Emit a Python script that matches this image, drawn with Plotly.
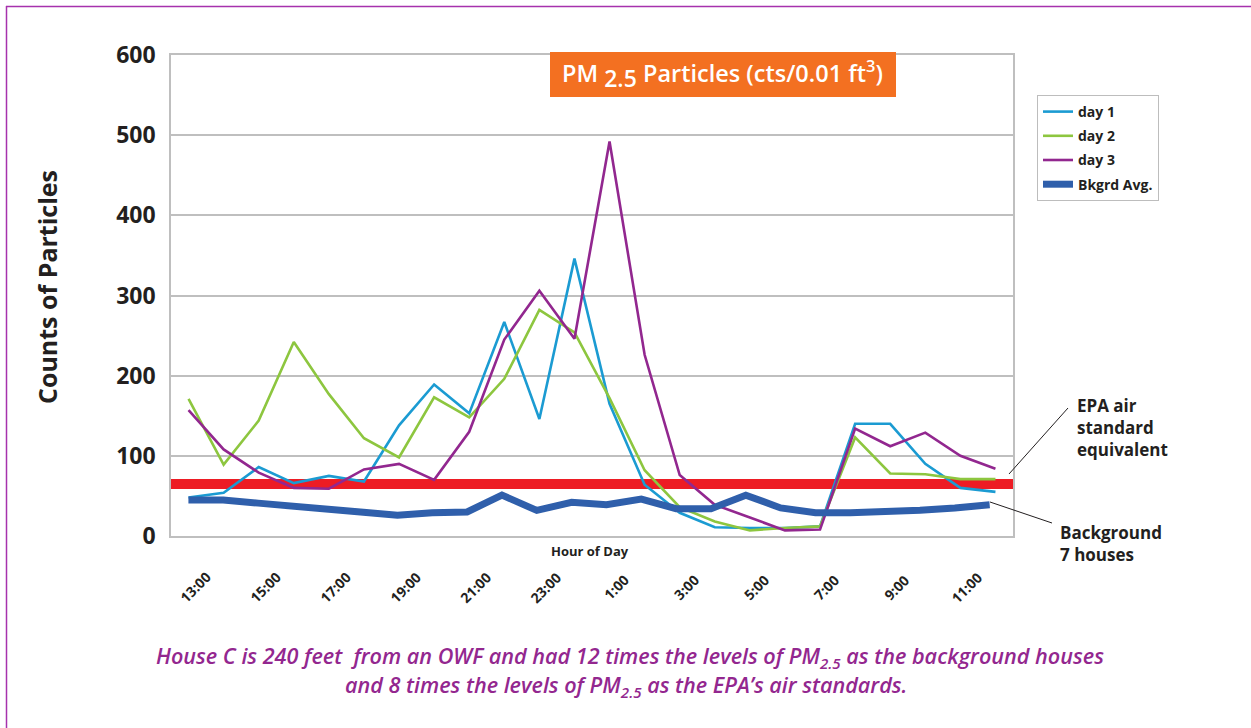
import plotly.graph_objects as go

# ---------------- data ----------------
hours = ["13:00", "14:00", "15:00", "16:00", "17:00", "18:00", "19:00", "20:00",
         "21:00", "22:00", "23:00", "0:00", "1:00", "2:00", "3:00", "4:00",
         "5:00", "6:00", "7:00", "8:00", "9:00", "10:00", "11:00", "12:00"]
tick_labels = ["13:00", "15:00", "17:00", "19:00", "21:00", "23:00",
               "1:00", "3:00", "5:00", "7:00", "9:00", "11:00"]
day1 = [48, 54, 86, 66, 75, 68, 138, 189, 153, 267, 146, 346,
        165, 64, 29, 11, 10, 10, 12, 140, 140, 90, 60, 55]
day2 = [171, 89, 144, 242, 177, 122, 98, 173, 148, 196, 282, 254,
        172, 82, 36, 18, 7, 10, 12, 123, 78, 77, 71, 71]
day3 = [157, 108, 79, 60, 59, 83, 90, 70, 130, 245, 306, 246,
        492, 226, 76, 39, 23, 7, 8, 134, 112, 129, 100, 84]
bkgrd = [45, 45, 41, 37, 32, 29, 26, 29, 30, 51, 32, 42,
         39, 46, 34, 34, 51, 35, 29, 29, 30, 32, 35, 39]
epa_standard = 65
y_ticks = [0, 100, 200, 300, 400, 500, 600]

# ---------------- layout helpers (pixel -> paper) ----------------
W, H = 1251, 728
L, R, T, B = 171, 1013, 55, 536
def px(x):
    return (x - L) / (R - L)
def py(y):
    return (B - y) / (B - T)

x_idx = list(range(len(hours)))
tick_idx = [hours.index(t) for t in tick_labels]

FONT = "Open Sans"
DARK = "#231f20"
FRAME = "#a632ad"

fig = go.Figure()
series = [("day 1", day1, "#1b9bd2", 2.6),
          ("day 2", day2, "#8dc63f", 2.6),
          ("day 3", day3, "#92278f", 2.6)]
for i, (name, vals, col, w) in enumerate(series):
    fig.add_trace(go.Scatter(x=x_idx, y=vals, mode="lines", name=name,
                             line=dict(color=col, width=w),
                             legendgroup=f"g{i}"))
fig.add_trace(go.Scatter(x=x_idx, y=bkgrd, mode="lines", name="Bkgrd Avg.",
                         line=dict(color="#2f5fab", width=7),
                         xaxis="x2", legendgroup="g3"))

shapes = []
# EPA line
shapes.append(dict(type="line", xref="paper", yref="y", x0=0, x1=1,
                   y0=epa_standard, y1=epa_standard,
                   line=dict(color="#ed1c24", width=10), layer="below"))
# title box
shapes.append(dict(type="rect", xref="paper", yref="paper",
                   x0=px(550), x1=px(896), y0=py(97), y1=py(52),
                   fillcolor="#f37021", line=dict(width=0), layer="above"))
# pointer lines
shapes.append(dict(type="line", xref="paper", yref="paper",
                   x0=px(1068), y0=py(408), x1=px(1009), y1=py(474),
                   line=dict(color="#231f20", width=1)))
shapes.append(dict(type="line", xref="paper", yref="paper",
                   x0=px(990), y0=py(502), x1=px(1052), y1=py(523),
                   line=dict(color="#231f20", width=1)))
# outer purple frame (top and left edges)
shapes.append(dict(type="line", xref="paper", yref="paper",
                   x0=px(6), x1=px(W), y0=py(6.5), y1=py(6.5),
                   line=dict(color=FRAME, width=1.5)))
shapes.append(dict(type="line", xref="paper", yref="paper",
                   x0=px(6.5), x1=px(6.5), y0=py(6), y1=py(H),
                   line=dict(color=FRAME, width=1.5)))

ann = []
ann.append(dict(xref="paper", yref="paper", x=px(722), y=py(74),
                text="PM <sub><span style='font-size:23px'>2.5</span></sub> Particles (cts/0.01 ft<sup>3</sup>)",
                showarrow=False, xanchor="center", yanchor="middle",
                font=dict(family=FONT, size=23.5, color="white", weight=600)))
ann.append(dict(xref="paper", yref="paper", x=px(47), y=py(287),
                text="Counts of Particles", textangle=-90, showarrow=False,
                xanchor="center", yanchor="middle",
                font=dict(family=FONT, size=25, color=DARK, weight="bold")))
ann.append(dict(xref="paper", yref="paper", x=px(590), y=py(551),
                text="Hour of Day", showarrow=False,
                xanchor="center", yanchor="middle",
                font=dict(family=FONT, size=13, color=DARK, weight="bold")))
for ti, tl in zip(tick_idx, tick_labels):
    ann.append(dict(xref="x", yref="paper", x=ti, y=py(587), xshift=6,
                    text=tl, textangle=-45, showarrow=False,
                    xanchor="center", yanchor="middle",
                    font=dict(family=FONT, size=14, color=DARK, weight="bold")))
ann.append(dict(xref="paper", yref="paper", x=px(1075), y=py(427),
                text="EPA air<br>standard<br>equivalent", showarrow=False,
                xanchor="left", yanchor="middle", align="left",
                font=dict(family=FONT, size=17, color=DARK, weight="bold")))
ann.append(dict(xref="paper", yref="paper", x=px(1058), y=py(543),
                text="Background<br>7 houses", showarrow=False,
                xanchor="left", yanchor="middle", align="left",
                font=dict(family=FONT, size=17, color=DARK, weight="bold")))
cap_font = dict(family=FONT, size=21.6, color="#93278f", weight=600, style="italic")
ann.append(dict(xref="paper", yref="paper", x=px(630), y=py(657),
                text="House C is 240 feet  from an OWF and had 12 times the levels of PM<sub>2.5</sub> as the background houses",
                showarrow=False, xanchor="center", yanchor="middle", font=cap_font))
ann.append(dict(xref="paper", yref="paper", x=px(626), y=py(686),
                text="and 8 times the levels of PM<sub>2.5</sub> as the EPA\u2019s air standards.",
                showarrow=False, xanchor="center", yanchor="middle", font=cap_font))

fig.update_layout(
    width=W, height=H,
    margin=dict(l=L, r=W - R, t=T, b=H - B, pad=0),
    paper_bgcolor="white", plot_bgcolor="white",
    showlegend=True,
    legend=dict(x=px(1037), y=py(95), xanchor="left", yanchor="top",
                bgcolor="white", bordercolor="#bdbdbd", borderwidth=1,
                font=dict(family=FONT, size=14, color=DARK, weight="bold"),
                tracegroupgap=3, itemwidth=30),
    xaxis=dict(range=[-0.5, len(hours) - 0.5], showgrid=False, zeroline=False,
               showticklabels=False, ticks="", showline=True,
               linecolor="#bfbfbf", linewidth=1.5, mirror=True),
    xaxis2=dict(overlaying="x", range=[-0.5, 23.67], visible=False),
    yaxis=dict(range=[0, 600], tickvals=y_ticks, showgrid=True,
               gridcolor="#bfbfbf", gridwidth=1.5, zeroline=False,
               showline=True, linecolor="#bfbfbf", linewidth=1.5, mirror=True,
               ticks="", ticklabelstandoff=9,
               tickfont=dict(family=FONT, size=23, color=DARK, weight="bold")),
    shapes=shapes, annotations=ann,
)

fig.write_html("out.html", config={"displayModeBar": False},
               post_script="document.body.style.margin='0';")
